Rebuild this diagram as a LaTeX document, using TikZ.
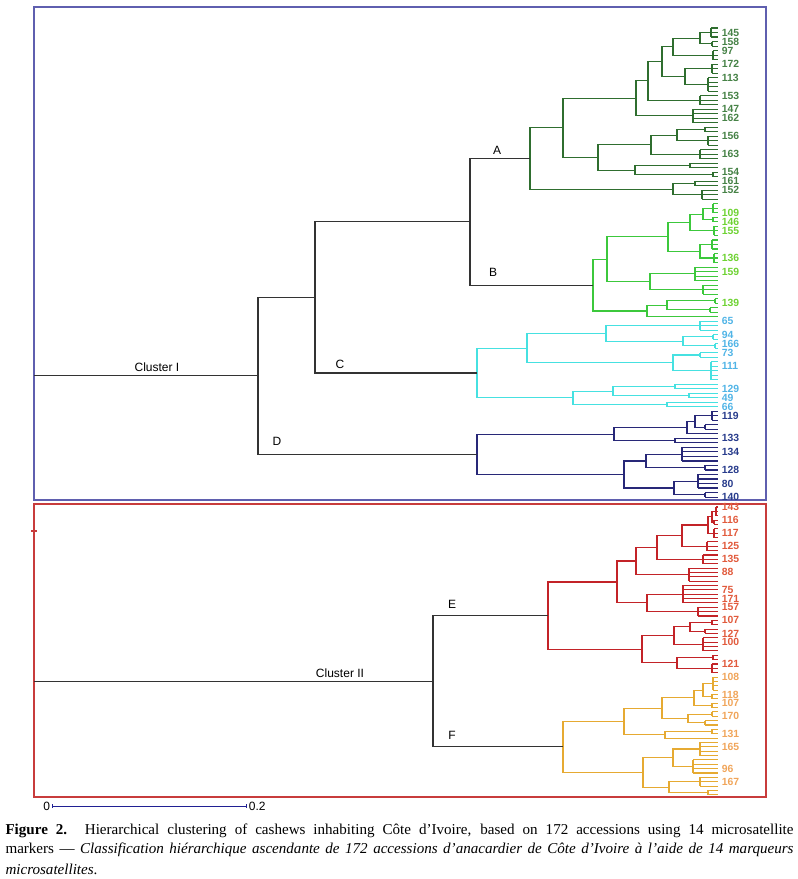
\documentclass[tikz,border=0pt]{standalone}
\usepackage{fontspec}
\setmainfont{Liberation Serif}
\setsansfont{Liberation Sans}
\usepackage{tikz}
\usetikzlibrary{arrows.meta,calc}
\definecolor{clA}{RGB}{47,110,47}
\definecolor{clB}{RGB}{60,200,60}
\definecolor{clC}{RGB}{70,225,225}
\definecolor{clD}{RGB}{40,40,120}
\definecolor{clE}{RGB}{195,35,40}
\definecolor{clF}{RGB}{230,170,50}
\definecolor{labA}{RGB}{70,130,70}
\definecolor{labB}{RGB}{110,210,50}
\definecolor{labC}{RGB}{80,180,230}
\definecolor{labD}{RGB}{40,60,140}
\definecolor{labE}{RGB}{225,90,60}
\definecolor{labF}{RGB}{240,165,90}
\definecolor{boxI}{RGB}{95,95,175}
\definecolor{boxII}{RGB}{200,60,60}
\tikzset{
    every node/.style={align=center,},
    trunk/.style={black!80,},
    clusterlab/.style={font=\sffamily\fontsize{9}{10}\selectfont,},
    leaflab/.style={anchor=west,inner sep=0pt,xshift=2.5pt,font=\sffamily\bfseries\fontsize{7.8}{8}\selectfont,},
    scalebar/.style={draw=clD!80!blue,line width=0.7pt,},
    caption/.style={anchor=west,inner sep=0pt,align=left,font=\fontsize{11.3}{14}\selectfont,},
}
\newcommand\leaffan[5]{%
    \coordinate (#1) at ($(#2,0 |- l#3)!.5!(#2,0 |- l#4)$);
    \draw[#5] (#2,0 |- l#3) -- (#2,0 |- l#4);
    \foreach \k in {#3,...,#4} \draw[#5] (#2,0 |- l\k) -- (l\k);
}
\newcommand\clade[5]{%
    \coordinate (#1) at ($(#2,0 |- #3)!.5!(#2,0 |- #4)$);
    \draw[#5] (#3) -| (#1) |- (#4);
}
\begin{document}
\begin{tikzpicture}[x=0.75pt,y=-0.75pt,line width=0.8pt]
    \useasboundingbox (0,0) rectangle (798,879);
    \draw[boxI,line width=1pt] (34,7) rectangle (766,500);
    \draw[boxII,line width=1pt] (34,504) rectangle (766,797);
    \draw[boxII,line width=1pt] (31,531) -- (37,531);

    \foreach \i in {1,...,105}
        \coordinate (l\i) at (718,{28+(\i-1)*4.51});
    \foreach \i in {106,...,172}
        \coordinate (l\i) at (718,{507+(\i-106)*4.36});

    \leaffan{a1}{711}{1}{3}{clA}
    \leaffan{a2}{712}{4}{5}{clA}
    \clade{a3}{700}{a1}{a2}{clA}
    \leaffan{a4}{713}{6}{8}{clA}
    \clade{a5}{673}{a3}{a4}{clA}
    \leaffan{a6}{712}{9}{11}{clA}
    \leaffan{a7}{708}{12}{15}{clA}
    \clade{a8}{685}{a6}{a7}{clA}
    \clade{a9}{662}{a5}{a8}{clA}
    \leaffan{a10}{700}{16}{18}{clA}
    \clade{a11}{648}{a9}{a10}{clA}
    \leaffan{a12}{693}{19}{22}{clA}
    \clade{a13}{636}{a11}{a12}{clA}
    \leaffan{a14}{705}{23}{24}{clA}
    \leaffan{a15}{708}{25}{27}{clA}
    \clade{a16}{677}{a14}{a15}{clA}
    \leaffan{a17}{700}{28}{30}{clA}
    \clade{a18}{651}{a16}{a17}{clA}
    \leaffan{a19}{690}{31}{32}{clA}
    \leaffan{a20}{713}{33}{34}{clA}
    \clade{a21}{635}{a19}{a20}{clA}
    \clade{a22}{598}{a18}{a21}{clA}
    \clade{a23}{563}{a13}{a22}{clA}
    \leaffan{a24}{695}{35}{36}{clA}
    \leaffan{a25}{702}{37}{39}{clA}
    \clade{a26}{673}{a24}{a25}{clA}
    \clade{cA}{530}{a23}{a26}{clA}

    \leaffan{b1}{713}{40}{42}{clB}
    \leaffan{b2}{713}{43}{44}{clB}
    \clade{b3}{703}{b1}{b2}{clB}
    \leaffan{b4}{714}{45}{47}{clB}
    \clade{b5}{690}{b3}{b4}{clB}
    \leaffan{b6}{712}{48}{50}{clB}
    \leaffan{b7}{714}{51}{53}{clB}
    \clade{b8}{700}{b6}{b7}{clB}
    \clade{b9}{668}{b5}{b8}{clB}
    \leaffan{b10}{695}{54}{57}{clB}
    \leaffan{b11}{703}{58}{60}{clB}
    \clade{b12}{650}{b10}{b11}{clB}
    \clade{b13}{607}{b9}{b12}{clB}
    \leaffan{b14}{715}{61}{62}{clB}
    \leaffan{b15}{710}{63}{64}{clB}
    \clade{b16}{667}{b14}{b15}{clB}
    \clade{b17}{647}{b16}{l65}{clB}
    \clade{cB}{593}{b13}{b17}{clB}

    \leaffan{c1}{700}{66}{68}{clC}
    \leaffan{c2}{713}{69}{70}{clC}
    \leaffan{c3}{715}{71}{72}{clC}
    \clade{c4}{683}{c2}{c3}{clC}
    \clade{c5}{606}{c1}{c4}{clC}
    \leaffan{c6}{700}{73}{74}{clC}
    \leaffan{c7}{711}{75}{79}{clC}
    \clade{c8}{673}{c6}{c7}{clC}
    \clade{c9}{527}{c5}{c8}{clC}
    \leaffan{c10}{675}{80}{81}{clC}
    \leaffan{c11}{689}{82}{83}{clC}
    \clade{c12}{613}{c10}{c11}{clC}
    \leaffan{c13}{667}{84}{85}{clC}
    \clade{c14}{573}{c12}{c13}{clC}
    \clade{cC}{477}{c9}{c14}{clC}

    \leaffan{d1}{712}{86}{88}{clD}
    \leaffan{d2}{705}{89}{90}{clD}
    \clade{d3}{695}{d1}{d2}{clD}
    \clade{d4}{687}{d3}{l91}{clD}
    \leaffan{d5}{675}{92}{93}{clD}
    \clade{d6}{614}{d4}{d5}{clD}
    \leaffan{d7}{682}{94}{97}{clD}
    \leaffan{d8}{705}{98}{99}{clD}
    \clade{d9}{646}{d7}{d8}{clD}
    \leaffan{d10}{698}{100}{103}{clD}
    \leaffan{d11}{705}{104}{105}{clD}
    \clade{d12}{674}{d10}{d11}{clD}
    \clade{d13}{624}{d9}{d12}{clD}
    \clade{cD}{477}{d6}{d13}{clD}

    \leaffan{e1}{716}{106}{108}{clE}
    \leaffan{e2}{714}{109}{110}{clE}
    \clade{e3}{712}{e1}{e2}{clE}
    \leaffan{e4}{714}{111}{113}{clE}
    \clade{e5}{708}{e3}{e4}{clE}
    \leaffan{e6}{707}{114}{116}{clE}
    \clade{e7}{682}{e5}{e6}{clE}
    \leaffan{e8}{703}{117}{119}{clE}
    \clade{e9}{657}{e7}{e8}{clE}
    \leaffan{e10}{689}{120}{123}{clE}
    \clade{e11}{636}{e9}{e10}{clE}
    \leaffan{e12}{683}{124}{128}{clE}
    \leaffan{e13}{698}{129}{131}{clE}
    \clade{e14}{647}{e12}{e13}{clE}
    \clade{e15}{617}{e11}{e14}{clE}
    \leaffan{e16}{712}{132}{133}{clE}
    \leaffan{e17}{705}{134}{135}{clE}
    \clade{e18}{690}{e16}{e17}{clE}
    \leaffan{e19}{703}{136}{139}{clE}
    \clade{e20}{674}{e18}{e19}{clE}
    \leaffan{e21}{713}{140}{141}{clE}
    \leaffan{e22}{712}{142}{144}{clE}
    \clade{e23}{677}{e21}{e22}{clE}
    \clade{e24}{642}{e20}{e23}{clE}
    \clade{cE}{548}{e15}{e24}{clE}

    \leaffan{f1}{713}{145}{148}{clF}
    \leaffan{f2}{712}{149}{150}{clF}
    \clade{f3}{703}{f1}{f2}{clF}
    \leaffan{f4}{712}{151}{152}{clF}
    \clade{f5}{694}{f3}{f4}{clF}
    \leaffan{f6}{712}{153}{154}{clF}
    \leaffan{f7}{705}{155}{156}{clF}
    \clade{f8}{688}{f6}{f7}{clF}
    \clade{f9}{662}{f5}{f8}{clF}
    \leaffan{f10}{712}{157}{158}{clF}
    \clade{f11}{665}{f10}{l159}{clF}
    \clade{f12}{624}{f9}{f11}{clF}
    \leaffan{f13}{700}{160}{163}{clF}
    \leaffan{f14}{693}{164}{167}{clF}
    \clade{f15}{673}{f13}{f14}{clF}
    \leaffan{f16}{700}{168}{170}{clF}
    \leaffan{f17}{708}{171}{172}{clF}
    \clade{f18}{669}{f16}{f17}{clF}
    \clade{f19}{643}{f15}{f18}{clF}
    \clade{cF}{563}{f12}{f19}{clF}

    \clade{cAB}{470}{cA}{cB}{trunk}
    \clade{cABC}{315}{cAB}{cC}{trunk}
    \clade{cI}{258}{cABC}{cD}{trunk}
    \clade{cII}{433}{cE}{cF}{trunk}
    \coordinate (rootI) at (34,0 |- cI);
    \coordinate (rootII) at (34,0 |- cII);
    \draw[trunk] (rootI) -- (cI);
    \draw[trunk] (rootII) -- (cII);

    \foreach \i/\t in {2/145,4/158,6/97,9/172,12/113,16/153,19/147,21/162,25/156,29/163,33/154,35/161,37/152}
        \node[leaflab,text=labA] (t\i) at (l\i) {\t};
    \foreach \i/\t in {42/109,44/146,46/155,52/136,55/159,62/139}
        \node[leaflab,text=labB] (t\i) at (l\i) {\t};
    \foreach \i/\t in {66/65,69/94,71/166,73/73,76/111,81/129,83/49,85/66}
        \node[leaflab,text=labC] (t\i) at (l\i) {\t};
    \foreach \i/\t in {87/119,92/133,95/134,99/128,102/80,105/140}
        \node[leaflab,text=labD] (t\i) at (l\i) {\t};
    \foreach \i/\t in {106/143,109/116,112/117,115/125,118/135,121/88,125/75,127/171,129/157,132/107,135/127,137/100,142/121}
        \node[leaflab,text=labE] (t\i) at (l\i) {\t};
    \foreach \i/\t in {145/108,149/118,151/107,154/170,158/131,161/165,166/96,169/167}
        \node[leaflab,text=labF] (t\i) at (l\i) {\t};

    \node[clusterlab] (labI) at (157,367) {Cluster I};
    \node[clusterlab] (labII) at (340,673) {Cluster II};
    \node[clusterlab] (labA) at (497,150) {A};
    \node[clusterlab] (labB) at (493,272) {B};
    \node[clusterlab] (labC) at (340,364) {C};
    \node[clusterlab] (labD) at (277,441) {D};
    \node[clusterlab] (labE) at (452,604) {E};
    \node[clusterlab] (labF) at (452,735) {F};

    \node[clusterlab,anchor=east,inner sep=1pt] (sc0) at (52,806) {0};
    \node[clusterlab,anchor=west,inner sep=1pt] (sc2) at (247,806) {0.2};
    \draw[scalebar,{Bar[width=3pt]}-{Bar[width=3pt]}] (sc0.east) -- (sc2.west);

    \node[caption] (cap1) at (5,831) {\makebox[591pt][s]{\textbf{Figure 2.} Hierarchical clustering of cashews inhabiting Côte d’Ivoire, based on 172 accessions using 14 microsatellite}};
    \node[caption] (cap2) at (5,850) {\makebox[591pt][s]{markers — \textit{Classification hiérarchique ascendante de 172 accessions d’anacardier de Côte d’Ivoire à l’aide de 14 marqueurs}}};
    \node[caption] (cap3) at (5,869) {\textit{microsatellites}.};
\end{tikzpicture}
\end{document}
